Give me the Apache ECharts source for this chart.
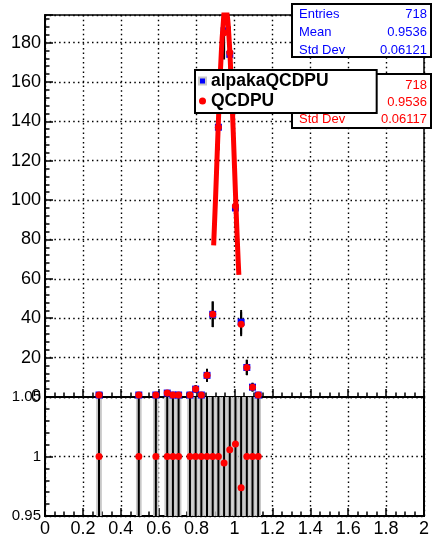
<!DOCTYPE html>
<html>
<head>
<meta charset="utf-8">
<script src="https://cdn.jsdelivr.net/npm/echarts@6/dist/echarts.min.js"></script>
<style>
html,body{margin:0;padding:0;background:#fff;}
#c{width:433px;height:540px;}
</style>
</head>
<body>
<div id="c"></div>
<script>
// ---- data ----
const binCenters = [0.285,0.495,0.585,0.645,0.675,0.705,0.765,0.795,0.825,0.855,0.885,0.915,0.945,0.975,1.005,1.035,1.065,1.095,1.125];
const binWidth = 0.03;
const qcdpu      = [1,1,1,2,1,1,1,4,1,11,42,137,185,175,97,37,15,5,1];
const qcdpuErr   = [1,1,1,1.4,1,1,1,2,1,3.3,6.5,11.7,13.6,13.2,9.8,6.1,3.9,2.2,1];
const alpaka     = [1,1,1,2,1,1,1,4,1,11,42,137,186,174,96,38,15,5,1];
const alpakaErr  = [1,1,1,1.4,1,1,1,2,1,3.3,6.5,11.7,13.6,13.2,9.8,6.2,3.9,2.2,1];
const ratio      = [1,1,1,1,1,1,1,1,1,1,1,1,0.9946,1.0057,1.0104,0.9737,1,1,1];
const ratioErr   = [1.41,1.41,1.41,1,1.41,1.41,1.41,0.71,1.41,0.43,0.22,0.12,0.10,0.11,0.14,0.23,0.37,0.63,1.41];
const fitX = [0.890,0.900,0.910,0.920,0.930,0.940,0.950,0.953,0.960,0.970,0.980,0.990,1.000,1.010,1.020,1.023];
const fitY = [77,101,127,152,174,189,197,197,195,184,166,143,117,91,68,62];
const statLabels = ['Entries','Mean','Std Dev'];
const statsAlpaka = ['718','0.9536','0.06121'];
const statsQcdpu  = ['718','0.9536','0.06117'];
const topYTicks = [0,20,40,60,80,100,120,140,160,180];
const xTicks = [0,0.2,0.4,0.6,0.8,1,1.2,1.4,1.6,1.8,2];

const FONT = 'Liberation Sans, Arial, sans-serif';
const chart = echarts.init(document.getElementById('c'));

const dotted = {show:true, lineStyle:{color:'#000', width:1.4, type:[1.5,3.2]}};

function xAxisCfg(gi, showLabel){
  return {
    type:'value', gridIndex:gi, min:0, max:2, interval:0.2,
    axisLine:{show:true, onZero:false, lineStyle:{color:'#000', width:2}},
    axisTick:{show:true, inside:true, length:8, lineStyle:{color:'#000', width:1.5}},
    minorTick:{show:true, splitNumber:4, length:4.5, lineStyle:{color:'#000', width:1.5}},
    splitLine:dotted,
    axisLabel:{show:showLabel, fontSize:18, color:'#000', fontFamily:FONT, margin:4,
      formatter: v => xTicks.indexOf(+v.toFixed(2)) >= 0 ? String(+v.toFixed(2)) : ''}
  };
}

function errBars(vals, errs){
  return binCenters.map((x,i)=>[x, Math.max(0, vals[i]-errs[i]), vals[i]+errs[i]]);
}

function statBox(y0, h, rowY, rowStep, values, color){
  const els = [{type:'rect', z:100, shape:{x:292, y:y0, width:139, height:h}, style:{fill:'#fff', stroke:'#000', lineWidth:2}}];
  statLabels.forEach((t,i)=>els.push({type:'text', z:101, style:{text:t, x:299, y:rowY+rowStep*i, fill:color, font:'13px '+FONT, textAlign:'left', verticalAlign:'middle'}}));
  values.forEach((t,i)=>els.push({type:'text', z:101, style:{text:t, x:427, y:rowY+rowStep*i, fill:color, font:'13px '+FONT, textAlign:'right', verticalAlign:'middle'}}));
  return els;
}

const option = {
  animation:false,
  backgroundColor:'#fff',
  grid:[
    {left:45, right:9, top:15, height:382, show:true, borderColor:'#000', borderWidth:1.5, backgroundColor:'transparent'},
    {left:45, right:9, top:397, height:119, show:true, borderColor:'#000', borderWidth:2, backgroundColor:'transparent'}
  ],
  xAxis:[xAxisCfg(0,false), xAxisCfg(1,true)],
  yAxis:[
    {type:'value', gridIndex:0, min:0, max:194, interval:20,
      axisLine:{show:true, lineStyle:{color:'#000', width:2}},
      axisTick:{show:true, inside:true, length:8, lineStyle:{color:'#000', width:1.5}},
      minorTick:{show:true, splitNumber:5, length:4.5, lineStyle:{color:'#000', width:1.5}},
      splitLine:dotted,
      axisLabel:{fontSize:18, color:'#000', fontFamily:FONT, margin:4, showMaxLabel:false,
        formatter: v => topYTicks.indexOf(v) >= 0 ? String(v) : ''}
    },
    {type:'value', gridIndex:1, min:0.95, max:1.05, interval:0.05,
      axisLine:{show:true, lineStyle:{color:'#000', width:2}},
      axisTick:{show:true, inside:true, length:8, lineStyle:{color:'#000', width:1.5}},
      minorTick:{show:true, splitNumber:5, length:4.5, lineStyle:{color:'#000', width:1.5}},
      splitLine:dotted,
      axisLabel:{fontSize:15, color:'#000', fontFamily:FONT, margin:4,
        formatter: v => String(+v.toFixed(2))}
    }
  ],
  legend:{
    left:195, top:70, orient:'vertical', z:200, zlevel:0,
    padding:[1,48,2,3], itemGap:0, itemWidth:7, itemHeight:7,
    backgroundColor:'#fff', borderColor:'#000', borderWidth:2, borderRadius:0,
    textStyle:{fontSize:17.5, fontWeight:'bold', color:'#000', fontFamily:FONT, lineHeight:20},
    data:[
      {name:'alpakaQCDPU', icon:'rect', itemStyle:{color:'#0000ff', borderColor:'#c8c8c8', borderWidth:2}},
      {name:'QCDPU', icon:'circle', itemStyle:{color:'#ff0000'}}
    ]
  },
  graphic:{
    z:100,
    elements:[
      {type:'group', z:100, children: statBox(4, 53, 14, 18, statsAlpaka, '#0000ff')},
      {type:'group', z:100, children: statBox(74, 54, 85, 17, statsQcdpu, '#ff0000')}
    ]
  },
  series:[
    {name:'alpakaErr', type:'custom', xAxisIndex:0, yAxisIndex:0, z:2,
      data: errBars(alpaka, alpakaErr), encode:{x:0, y:[1,2]},
      renderItem:(params, api)=>{
        const cs = params.coordSys;
        const p1 = api.coord([api.value(0), api.value(2)]);
        const p2 = api.coord([api.value(0), api.value(1)]);
        const y1 = Math.max(p1[1], cs.y), y2 = Math.min(p2[1], cs.y+cs.height);
        if (y2 <= y1) return null;
        return {type:'line', shape:{x1:p1[0], y1:y1, x2:p1[0], y2:y2}, style:{stroke:'#000', lineWidth:2}};
      }
    },
    {name:'qcdErr', type:'custom', xAxisIndex:0, yAxisIndex:0, z:2,
      data: errBars(qcdpu, qcdpuErr), encode:{x:0, y:[1,2]},
      renderItem:(params, api)=>{
        const cs = params.coordSys;
        const p1 = api.coord([api.value(0), api.value(2)]);
        const p2 = api.coord([api.value(0), api.value(1)]);
        const y1 = Math.max(p1[1], cs.y), y2 = Math.min(p2[1], cs.y+cs.height);
        if (y2 <= y1) return null;
        return {type:'line', shape:{x1:p1[0], y1:y1, x2:p1[0], y2:y2}, style:{stroke:'#000', lineWidth:2}};
      }
    },
    {name:'alpakaQCDPU', type:'scatter', xAxisIndex:0, yAxisIndex:0, z:3,
      symbol:'rect', symbolSize:7, itemStyle:{color:'#0000ff', opacity:1},
      data: binCenters.map((x,i)=>[x, alpaka[i]])
    },
    {name:'QCDPU', type:'scatter', xAxisIndex:0, yAxisIndex:0, z:4,
      symbol:'circle', symbolSize:7, itemStyle:{color:'#ff0000', opacity:1},
      data: binCenters.map((x,i)=>[x, qcdpu[i]])
    },
    {name:'fit', type:'line', xAxisIndex:0, yAxisIndex:0, z:5,
      smooth:true, showSymbol:false, clip:true,
      lineStyle:{color:'#ff0000', width:5}, itemStyle:{color:'#ff0000'},
      data: fitX.map((x,i)=>[x, fitY[i]])
    },
    {name:'ratioErr', type:'custom', xAxisIndex:1, yAxisIndex:1, z:2,
      data: binCenters.map((x,i)=>[x, ratio[i], ratioErr[i]]), encode:{x:0, y:1},
      renderItem:(params, api)=>{
        const cs = params.coordSys;
        const x = api.value(0), r = api.value(1), e = api.value(2);
        const pl = api.coord([x - binWidth/2, r + e]);
        const pr = api.coord([x + binWidth/2, r - e]);
        const top = Math.max(pl[1], cs.y), bot = Math.min(pr[1], cs.y+cs.height);
        const cx = (pl[0]+pr[0])/2;
        return {type:'group', children:[
          {type:'rect', shape:{x:pl[0], y:top, width:pr[0]-pl[0], height:bot-top}, style:{fill:'#c8c8c8'}},
          {type:'line', shape:{x1:cx, y1:top, x2:cx, y2:bot}, style:{stroke:'#000', lineWidth:2}}
        ]};
      }
    },
    {name:'ratio', type:'scatter', xAxisIndex:1, yAxisIndex:1, z:4,
      symbol:'circle', symbolSize:7, itemStyle:{color:'#ff0000', opacity:1},
      data: binCenters.map((x,i)=>[x, ratio[i]])
    }
  ]
};
chart.setOption(option);
</script>
</body>
</html>
